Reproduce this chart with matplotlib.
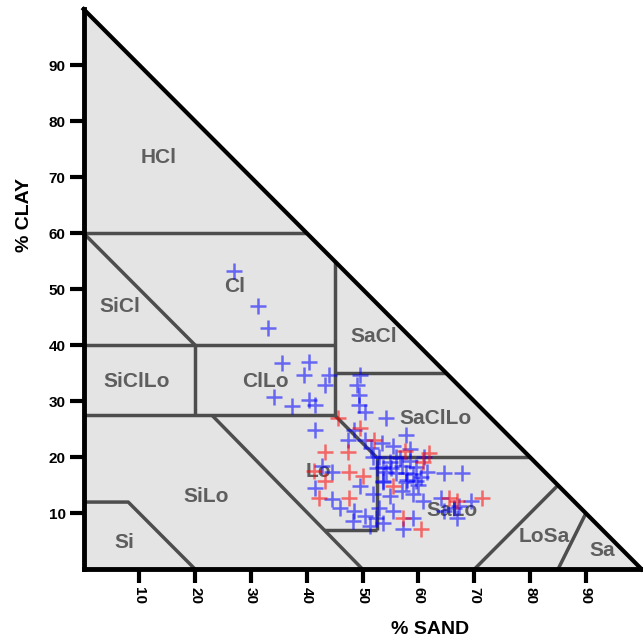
import matplotlib
matplotlib.use('Agg')
import matplotlib.pyplot as plt
from matplotlib.patches import Polygon

plt.rcParams['font.family'] = ['Liberation Sans', 'DejaVu Sans']
plt.rcParams['font.weight'] = 'bold'

# texture class boundaries, (sand, clay) pairs
boundaries = [
    [(0, 60), (40, 60)],
    [(0, 60), (20, 40)],
    [(0, 40), (45, 40)],
    [(45, 27.5), (45, 55)],
    [(20, 27.5), (20, 40)],
    [(0, 27.5), (45, 27.5)],
    [(45, 35), (65, 35)],
    [(45, 27.5), (52.5, 20)],
    [(52.5, 20), (80, 20)],
    [(52.5, 7), (52.5, 20)],
    [(43, 7), (52.5, 7)],
    [(23, 27.5), (50, 0)],
    [(0, 12), (8, 12), (20, 0)],
    [(70, 0), (85, 15)],
    [(85, 0), (90, 10)],
]

class_names = ['HCl', 'Cl', 'SiCl', 'SaCl', 'SiClLo', 'ClLo', 'SaClLo',
               'Lo', 'SiLo', 'SaLo', 'Si', 'LoSa', 'Sa']
class_sand = [13.5, 27, 6.5, 52, 9.5, 32.5, 63, 42, 22, 66, 7.3, 82.5, 93]
class_clay = [73.5, 50.5, 47, 41.5, 33.5, 33.5, 27, 17.5, 13, 10.5, 4.7, 5.8, 3.3]

blue_sand = [26.9, 31.3, 33.1, 35.5, 40.4, 39.5, 44.0, 43.3, 34.2, 37.3, 40.4,
             41.5, 49.5, 49.0, 49.3, 49.3, 50.5, 41.5, 47.3, 48.5, 50.5, 51.5,
             42.7, 44.5, 49.5, 44.5, 46.0, 48.5, 50.5, 48.2, 51.3, 53.6, 53.0,
             51.8, 53.6, 53.6, 51.8, 41.5, 54.2, 57.8, 53.0, 54.9, 56.7, 58.5,
             59.6, 54.2, 56.0, 57.8, 61.5, 64.5, 67.8, 53.6, 57.8, 59.6, 54.9,
             59.1, 60.9, 64.0, 69.5, 64.5, 66.4, 52.4, 55.5, 57.3, 59.1, 67.3,
             66.9, 52.5, 55.0, 57.0, 59.0, 60.0, 58.0, 56.0, 61.0, 55.5, 58.5,
             60.5, 57.0, 53.5]
blue_clay = [53.2, 47.0, 43.0, 36.9, 37.0, 34.7, 34.7, 32.9, 30.8, 29.1, 30.2,
             29.3, 34.7, 32.9, 31.1, 29.3, 28.0, 24.8, 23.0, 24.8, 23.0, 21.6,
             18.5, 17.3, 14.9, 12.6, 11.0, 10.4, 9.5, 8.6, 7.7, 8.3, 11.0,
             13.5, 15.8, 18.2, 20.0, 14.6, 27.0, 23.9, 20.0, 19.1, 19.8, 19.4,
             18.2, 17.3, 17.1, 17.1, 17.3, 17.1, 17.1, 15.5, 15.5, 15.8, 13.1,
             13.5, 12.2, 12.8, 12.2, 10.4, 11.0, 9.2, 10.4, 7.2, 9.2, 11.3,
             9.2, 18.0, 18.0, 18.5, 17.0, 15.0, 16.0, 20.0, 20.0, 22.0, 21.5,
             16.5, 14.0, 22.5]

red_sand = [45.5, 43.3, 47.3, 49.6, 41.3, 47.6, 50.0, 43.3, 42.2, 47.6, 57.6,
            61.8, 60.9, 55.5, 65.5, 66.9, 71.3, 57.3, 60.5, 52.0]
red_clay = [27.0, 20.9, 20.9, 25.2, 17.6, 17.3, 16.7, 15.8, 12.8, 12.8, 21.2,
            20.7, 19.1, 14.9, 12.8, 12.2, 12.8, 9.2, 7.2, 23.0]

ticks = [10, 20, 30, 40, 50, 60, 70, 80, 90]

fig = plt.figure(figsize=(6.43, 6.38), dpi=100)
ax = fig.add_axes([0.130, 0.1077, 0.868, 0.878])
ax.set_xlim(0, 100)
ax.set_ylim(0, 100)

tri = Polygon([(0, 0), (100, 0), (0, 100)], closed=True, facecolor='#e4e4e4',
              edgecolor='none', zorder=0)
ax.add_patch(tri)
ax.plot([0, 100], [100, 0], color='black', lw=3, clip_on=False, zorder=5)

for seg in boundaries:
    xs, ys = zip(*seg)
    ax.plot(xs, ys, color='#4d4d4d', lw=2.5, solid_capstyle='butt', zorder=2)

for name, sx, cy in zip(class_names, class_sand, class_clay):
    ax.text(sx, cy, name, ha='center', va='center', fontsize=15,
            fontweight='bold', color='#5e5e5e', zorder=3)

ax.plot(blue_sand, blue_clay, '+', color='#0000ff', alpha=0.55, ms=12, mew=1.8,
        zorder=4, clip_on=False)
ax.plot(red_sand, red_clay, '+', color='#ff0000', alpha=0.55, ms=12, mew=1.8,
        zorder=4, clip_on=False)

for side in ['top', 'right']:
    ax.spines[side].set_visible(False)
for side in ['left', 'bottom']:
    ax.spines[side].set_linewidth(3.5)
    ax.spines[side].set_zorder(6)

ax.set_xticks(ticks)
ax.set_yticks(ticks)
ax.set_xticklabels([str(t) for t in ticks], rotation=270, fontsize=11,
                   fontweight='bold')
ax.set_yticklabels([str(t) for t in ticks], fontsize=11, fontweight='bold')
ax.tick_params(axis='both', length=10, width=3, direction='out', pad=3)

ax.set_xlabel('% SAND', fontsize=14, fontweight='bold')
ax.set_ylabel('% CLAY', fontsize=14, fontweight='bold')
ax.xaxis.set_label_coords(0.62, -0.092)
ax.yaxis.set_label_coords(-0.09, 0.633)

fig.savefig('out.png', dpi=100)
